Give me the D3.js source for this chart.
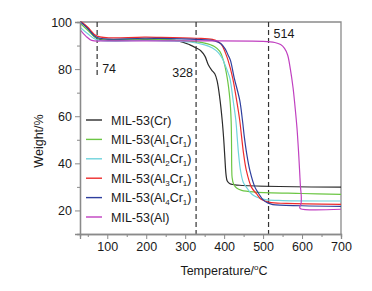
<!DOCTYPE html>
<html><head><meta charset="utf-8">
<script src="https://cdn.jsdelivr.net/npm/d3@7"></script>
<style>body{margin:0;background:#fff;}svg{display:block;font-family:"Liberation Sans",Arial,sans-serif;}</style>
</head><body>
<script>
// ---- data ----
const seriesNames = ["MIL-53(Cr)","MIL-53(Al_1Cr_1)","MIL-53(Al_2Cr_1)","MIL-53(Al_3Cr_1)","MIL-53(Al_4Cr_1)","MIL-53(Al)"];
const seriesColors = ["#2b2b2b","#6cc644","#6fd3dc","#ee2c2c","#2e3f9e","#c040c0"];
const crData = [[30,100.3],[50,97.5],[74,93],[200,92.5],[281,92],[312,90.3],[328,89],[340,87.8],[351,85.4],[359,82],[368,79.6],[376,78],[382,75],[389,67.5],[395,58.3],[399,50],[402,42],[405,35],[408,32.5],[415,31.3],[440,30.7],[700,29.9]];
const al1cr1Data = [[30,99.5],[50,96.5],[74,93.2],[200,92.8],[312,91.8],[350,91],[375,89.6],[389,87.5],[398,83.8],[408,76.2],[415,66.8],[418,58],[419,48],[419.5,38],[420.5,34],[424,31.3],[432,29.5],[445,28.5],[480,27.8],[600,27.2],[700,26.8]];
const al2cr1Data = [[30,97.8],[50,95],[74,92.4],[200,92.2],[312,91.5],[350,90.3],[370,89],[385,87],[395,84.6],[403,81.5],[410,78.5],[415,76],[423,66.8],[430,58.3],[434,50],[437,44],[442,37],[449,32],[457,29.9],[470,27.1],[483,25.7],[495,25],[509,24.5],[550,24.2],[700,24]];
const al3cr1Data = [[30,100.6],[50,97.8],[74,94],[200,93.6],[328,93.1],[370,92.6],[385,91.6],[395,90],[403,87],[410,83.8],[422,76.2],[432,66.8],[440,58.3],[445,51],[450,44],[457,37],[470,29.9],[483,27.1],[496,24.6],[517,23.4],[560,23],[700,22.6]];
const al4cr1Data = [[30,100.2],[50,97.2],[74,93.4],[200,93.1],[328,92.6],[375,92],[392,90.8],[403,88.5],[410,86],[416,83.8],[426,76.2],[440,66.8],[447,58.3],[452,51],[458,44],[466,37],[479,29.9],[489,27.1],[500,24.5],[513,23.1],[525,22.5],[600,22],[700,21.7]];
const alData = [[30,96.8],[45,94],[60,92.2],[100,92],[300,92],[500,91.8],[530,91.3],[545,90.4],[555,88.8],[563,86],[570,80],[577,72],[582,64],[587,55],[591,45],[594,36],[596,30],[598,26],[597.5,23],[594,21.3],[596,20.7],[700,20.5]];
const allSeries = [crData, al1cr1Data, al2cr1Data, al3cr1Data, al4cr1Data, alData];
const xTicks = [100,200,300,400,500,600,700];
const xMinor = [50,150,250,350,450,550,650];
const yTicks = [20,40,60,80,100];
const yMinor = [10,30,50,70,90];
const markers = [74,328,514];
const markerLabels = ["74","328","514"];

// ---- layout ----
const W = 372, H = 291;
const m = {left:80, right:31, top:22, bottom:57};
const svg = d3.select("body").append("svg").attr("width",W).attr("height",H);
const x = d3.scaleLinear().domain([30,700]).range([m.left, W-m.right]);
const y = d3.scaleLinear().domain([10,100]).range([H-m.bottom, m.top]);
const axisCol = "#8a8a8a", textCol = "#1a1a1a";

// frame
svg.append("path").attr("d",`M${x(30)},${y(100)}H${x(700)}V${y(10)}`).attr("fill","none").attr("stroke",axisCol).attr("stroke-width",1.3);

// clip
svg.append("clipPath").attr("id","clip").append("rect").attr("x",x(30)).attr("y",y(100)-0.5).attr("width",x(700)-x(30)).attr("height",y(10)-y(100)+0.5);

// dashed markers
const mk = svg.append("g");
markers.forEach((t,i)=>{
  const yEnd = i===0 ? y(76.5) : y(10);
  mk.append("line").attr("x1",x(t)).attr("x2",x(t)).attr("y1",y(100)).attr("y2",yEnd)
    .attr("stroke","#333").attr("stroke-width",1.2).attr("stroke-dasharray","5,3");
});
const lblPos = [{dx:5,y:73,anchor:"start"},{dx:-3,y:77,anchor:"end"},{dx:5,y:38,anchor:"start"}];
markerLabels.forEach((s,i)=>{
  svg.append("text").attr("x",x(markers[i])+lblPos[i].dx).attr("y",lblPos[i].y)
    .attr("text-anchor",lblPos[i].anchor).attr("font-size",12.5).attr("fill",textCol).text(s);
});

// curves
const line = d3.line().x(d=>x(d[0])).y(d=>y(d[1])).curve(d3.curveCatmullRom.alpha(0.5));
const cg = svg.append("g").attr("clip-path","url(#clip)");
allSeries.forEach((s,i)=>{
  cg.append("path").attr("d",line(s)).attr("fill","none").attr("stroke",seriesColors[i]).attr("stroke-width",1.2);
});

// axes
const xAxis = svg.append("g").attr("transform",`translate(0,${y(10)})`)
  .call(d3.axisBottom(x).tickValues(xTicks).tickSize(5).tickPadding(3).tickFormat(d3.format("d")));
svg.append("g").attr("transform",`translate(0,${y(10)})`)
  .call(d3.axisBottom(x).tickValues(xMinor).tickSize(3).tickFormat(""));
const yAxis = svg.append("g").attr("transform",`translate(${x(30)},0)`)
  .call(d3.axisLeft(y).tickValues(yTicks).tickSize(5).tickPadding(3));
svg.append("g").attr("transform",`translate(${x(30)},0)`)
  .call(d3.axisLeft(y).tickValues(yMinor).tickSize(3).tickFormat(""));
svg.selectAll(".domain").attr("stroke",axisCol).attr("stroke-width",1.3);
svg.selectAll(".tick line").attr("stroke",axisCol).attr("stroke-width",1);
svg.selectAll(".tick text").attr("font-size",12.5).attr("fill",textCol).attr("font-family","Liberation Sans, Arial, sans-serif");
svg.selectAll(".domain").filter(function(){return true;}).attr("d",function(){return d3.select(this).attr("d").replace(/M[^M]*?V/, m=>m);});

// axis titles
svg.append("text").attr("transform",`translate(43,141) rotate(-90)`).attr("text-anchor","middle")
  .attr("font-size",12.5).attr("fill",textCol).text("Weight/%");
const xt = svg.append("text").attr("x",224).attr("y",275).attr("text-anchor","middle").attr("font-size",12.5).attr("fill",textCol);
xt.append("tspan").text("Temperature/");
xt.append("tspan").attr("font-size",8).attr("dy",-5).text("o");
xt.append("tspan").attr("dy",5).text("C");

// legend
const lg = svg.append("g");
seriesNames.forEach((name,i)=>{
  const yy = 120 + i*19.4;
  lg.append("line").attr("x1",86).attr("x2",102).attr("y1",yy).attr("y2",yy).attr("stroke",seriesColors[i]).attr("stroke-width",1.4);
  const t = lg.append("text").attr("x",111).attr("y",yy+4.5).attr("font-size",12.5).attr("fill",textCol);
  const parts = name.split(/(_\d)/).filter(p=>p.length);
  let sub = false;
  parts.forEach(p=>{
    if(p.startsWith("_")){
      t.append("tspan").attr("font-size",8).attr("dy",3).text(p.slice(1));
      sub = true;
    } else {
      const ts = t.append("tspan").text(p);
      if(sub){ts.attr("dy",-3); sub=false;}
    }
  });
});
</script>
</body></html>
